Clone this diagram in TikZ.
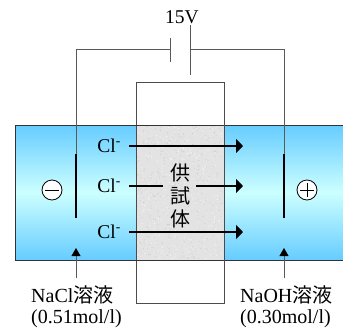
\documentclass[tikz,border=0pt]{standalone}
\usepackage{fontspec}
\setmainfont{Liberation Serif}
\newfontfamily\cjk{Noto Sans CJK JP}
\usetikzlibrary{arrows.meta}
\definecolor{tankblue}{RGB}{102,204,255}
\definecolor{tankpale}{RGB}{204,255,255}
\tikzset{
  wire/.style={draw=black!65,line width=0.9pt},
  plate/.style={line width=2.6pt,black},
  ion/.style={line width=2.4pt,black},
  ionhead/.style={-{Triangle[length=7pt,width=14pt]}},
  pointer/.style={wire,-{Triangle[length=8pt,width=9pt,color=black]}},
  label/.style={inner sep=0pt,font=\fontsize{19.5}{21.5}\selectfont},
  solution/.style={inner sep=0pt,align=left,anchor=north west,font=\fontsize{20}{21}\selectfont},
  sign/.style={circle,draw,fill=white,line width=0.8pt,minimum size=20pt,inner sep=0pt}
}
\begin{document}
\begin{tikzpicture}[x=1pt,y=-1pt]
  \useasboundingbox (0,0) rectangle (343,327);
  % tank
  \shade[top color=tankblue,bottom color=tankblue,middle color=tankpale] (15,125) rectangle (345,260);
  \draw[line width=1pt,black!80] (345,125) -- (15,125) -- (15,260) -- (345,260);
  % test piece
  \draw[line width=1pt,black!70] (136,82) rectangle (224,303);
  \fill[black!11] (136.5,125.5) rectangle (223.5,259.5);
  \pgfmathsetseed{7}
  \foreach \i in {1,...,1100}{
    \pgfmathsetmacro{\px}{137+rnd*85}
    \pgfmathsetmacro{\py}{126+rnd*133}
    \pgfmathsetmacro{\pk}{int(rnd*24)}
    \fill[black!\pk] (\px,\py) circle (0.55);
  }
  \draw[line width=1pt,black!70] (136,125) -- (136,260) (224,125) -- (224,260);
  \draw[line width=1pt,black!80] (136,125) -- (224,125) (136,260) -- (224,260);

  % battery and electrodes
  \coordinate (cellA) at (170,49);
  \coordinate (cellB) at (190,49);
  \coordinate (cornerL) at (76,49);
  \coordinate (cornerR) at (284,49);
  \coordinate (plateLt) at (76,154);
  \coordinate (plateLb) at (76,218);
  \coordinate (plateRt) at (284,154);
  \coordinate (plateRb) at (284,218);
  \draw[wire] (cellA) -- (cornerL) -- (plateLt);
  \draw[wire] (cellB) -- (cornerR) -- (plateRt);
  \draw[wire] (170,38) -- (170,62);
  \draw[wire] (190,25) -- (190,75);
  \draw[plate] (plateLt) -- (plateLb);
  \draw[plate] (plateRt) -- (plateRb);

  \node[sign] (minus) at (52,190) {};
  \draw[line width=1pt] (minus.center) +(-7,0) -- +(7,0);
  \node[sign] (plus) at (307,190) {};
  \draw[line width=1pt] (plus.center) +(-7,0) -- +(7,0) (plus.center) +(0,-7) -- +(0,7);

  % ions
  \foreach \name/\y in {ionA/146,ionB/186,ionC/232}
    \node[label,anchor=east] (\name) at (121,\y) {Cl\textsuperscript{-}};
  \node[label,align=center,font=\cjk\fontsize{20}{23}\selectfont] (sample) at (180,196) {供\\試\\体};
  \coordinate (headA) at (243,146);
  \coordinate (headB) at (243,186);
  \coordinate (headC) at (243,232);
  \draw[ion] ([xshift=8pt]ionA.east) -- (184,146);
  \draw[line width=1.4pt,ionhead] (184,146) -- (headA);
  \draw[ion] ([xshift=8pt]ionB.east) -- (163,186);
  \draw[ion,ionhead] (196,186) -- (headB);
  \draw[ion,ionhead] ([xshift=8pt]ionC.east) -- (headC);

  % solutions
  \node[solution] (nacl) at (31,285) {NaCl{\cjk 溶液}\\(0.51mol/l)};
  \node[solution] (naoh) at (240,285) {NaOH{\cjk 溶液}\\(0.30mol/l)};
  \draw[pointer] (76,278) -- (76,248);
  \draw[pointer] (284,278) -- (284,248);

  \node[label] (volt) at (182,17) {15V};
\end{tikzpicture}
\end{document}
